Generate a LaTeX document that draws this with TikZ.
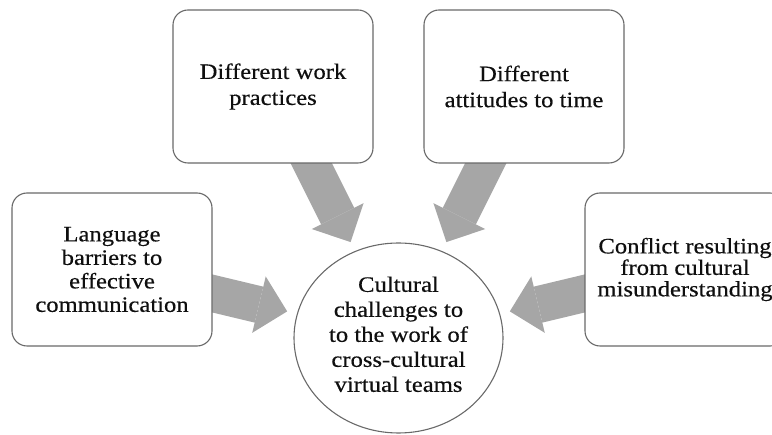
\documentclass[tikz,border=0pt]{standalone}
\usepackage{fontspec}
\setmainfont[FakeStretch=1.12,FakeBold=0.4]{Liberation Serif}
\usetikzlibrary{arrows.meta,shapes.geometric,backgrounds}

\definecolor{boxline}{RGB}{105,105,105}
\definecolor{feedgray}{RGB}{166,166,166}
\definecolor{ink}{RGB}{15,15,15}

\begin{document}
\begin{tikzpicture}[x=1pt,y=-1pt,
  box/.style={draw=boxline, line width=1.1pt, rounded corners=15pt, fill=white,
    minimum width=200pt, minimum height=153pt, inner sep=0pt, align=center,
    text=ink, font=\fontsize{22}{23.5}\selectfont},
  hub/.style={draw=boxline, line width=1.1pt, ellipse, fill=white,
    minimum width=209pt, minimum height=190pt, inner sep=0pt, align=center,
    text=ink, font=\fontsize{22}{25}\selectfont},
  feed/.style={draw=feedgray, line width=37pt,
    -{Triangle[length=29pt 0 0, width=58pt 0 0, line width=0pt]},
    shorten >=10pt, shorten <=-30pt}
]
\useasboundingbox (0,0) rectangle (772,435);

% outer challenge boxes
\node[box] (lang) at (112,269.5) {Language\\barriers to\\effective\\communication};
\node[box, font=\fontsize{22}{26}\selectfont] (work) at (273,86.5) {Different work\\practices};
\node[box, font=\fontsize{22}{26}\selectfont] (time) at (524,86.5) {Different\\attitudes to time};
\node[box, font=\fontsize{22}{21.5}\selectfont] (conf) at (685,269.5) {Conflict resulting\\from cultural\\misunderstanding};

% central topic, text set a little below the middle
\node[hub] (core) at (398.5,338) {\raisebox{-4pt}[0pt][0pt]{\begin{tabular}{@{}c@{}}Cultural\\challenges to\\to the work of\\cross-cultural\\virtual teams\end{tabular}}};

% block arrows into the centre, behind the boxes
\begin{scope}[on background layer]
  \draw[feed] (lang) -- (core);
  \draw[feed] (work) -- (core);
  \draw[feed] (time) -- (core);
  \draw[feed] (conf) -- (core);
\end{scope}
\end{tikzpicture}
\end{document}
